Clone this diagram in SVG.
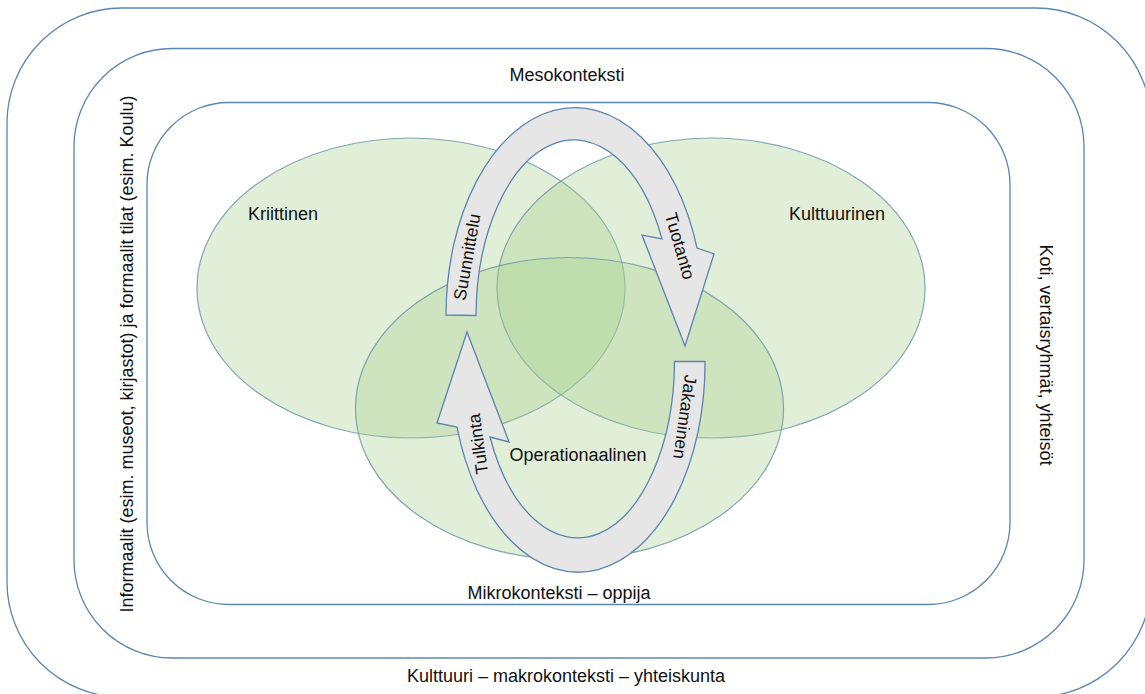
<svg xmlns="http://www.w3.org/2000/svg" width="1145" height="694" viewBox="0 0 1145 694">
  <style>
    .frame { fill: none; stroke: #5a86b4; stroke-width: 1.3; }
    .set { fill: #a9d18e; fill-opacity: 0.35; stroke: #6e98a8; stroke-width: 1.2; stroke-opacity: 0.85; }
    .arrow { fill: #e7e6e6; stroke: #5a84b2; stroke-width: 1.3; stroke-linejoin: miter; }
    text { font-family: "Liberation Sans", Arial, sans-serif; font-size: 18px; fill: #111; text-anchor: middle; dominant-baseline: central; }
    .al { font-size: 17.5px; }
  </style>

  <g id="makrokonteksti">
    <rect class="frame" x="7" y="8" width="1144" height="689" rx="115" ry="115"/>
    <text x="566" y="676">Kulttuuri – makrokonteksti – yhteiskunta</text>
  </g>

  <g id="mesokonteksti">
    <rect class="frame" x="74" y="48.5" width="1010" height="609.5" rx="98" ry="98"/>
    <text x="567" y="75">Mesokonteksti</text>
    <text transform="translate(127 354) rotate(-90)">Informaalit (esim. museot, kirjastot) ja formaalit tilat (esim. Koulu)</text>
    <text transform="translate(1046 355) rotate(90)">Koti, vertaisryhmät, yhteisöt</text>
  </g>

  <g id="mikrokonteksti">
    <rect class="frame" x="147" y="102.5" width="863" height="502" rx="82" ry="82"/>
    <text x="559" y="593">Mikrokonteksti – oppija</text>
  </g>

  <g id="kriittinen">
    <ellipse class="set" cx="411" cy="288" rx="214" ry="150"/>
    <text x="283" y="214">Kriittinen</text>
  </g>

  <g id="kulttuurinen">
    <ellipse class="set" cx="711" cy="288" rx="214" ry="150"/>
    <text x="837" y="214">Kulttuurinen</text>
  </g>

  <g id="operationaalinen">
    <ellipse class="set" cx="569.5" cy="408.5" rx="214" ry="151"/>
    <text x="578" y="455">Operationaalinen</text>
  </g>

  <g id="connectors">
    <path class="arrow" d="M446,315 A129,208 0 0 1 697,248 L714,254 L685,346 L642,235 L662,239 A98,177 0 0 0 476,315.5 Z"/>
    <path class="arrow" d="M705,361.5 A127,208.5 0 0 1 457,427 L437,423 L467,332 L509,442 L490,437 A97,177.5 0 0 0 674.5,361.5 Z"/>
    <text class="al" transform="translate(467 257) rotate(-80)">Suunnittelu</text>
    <text class="al" transform="translate(680 246) rotate(74)">Tuotanto</text>
    <text class="al" transform="translate(685 417) rotate(98)">Jakaminen</text>
    <text class="al" transform="translate(478 444) rotate(-98)">Tulkinta</text>
  </g>
</svg>
